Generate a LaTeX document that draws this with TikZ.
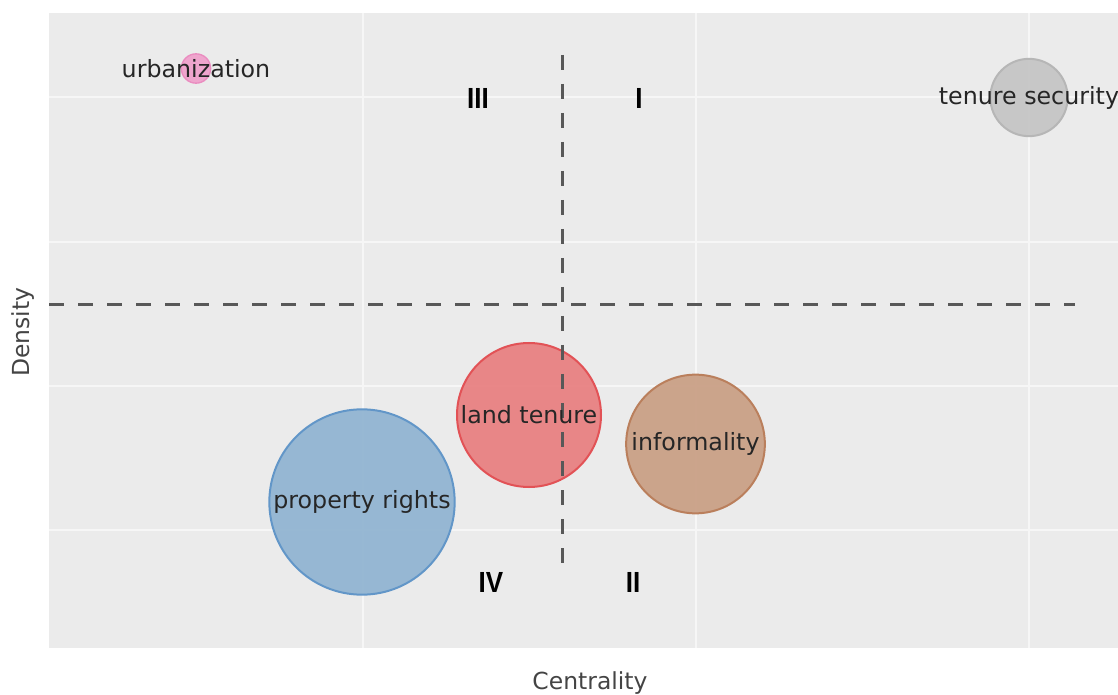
\documentclass[tikz,border=0pt]{standalone}
\usepackage{fontspec}
\setmainfont{DejaVu Sans}
\newfontfamily\quadfont{Liberation Sans}
\definecolor{panelgray}{RGB}{235,235,235}
\definecolor{gridwhite}{RGB}{246,246,246}
\definecolor{labelink}{RGB}{38,38,38}
\definecolor{axisink}{RGB}{68,68,68}
\definecolor{divgray}{RGB}{88,88,88}
\definecolor{propfill}{RGB}{143,179,209}
\definecolor{propline}{RGB}{98,150,200}
\definecolor{landfill}{RGB}{232,126,127}
\definecolor{landline}{RGB}{226,82,86}
\definecolor{infofill}{RGB}{201,158,131}
\definecolor{infoline}{RGB}{186,127,92}
\definecolor{securefill}{RGB}{197,197,197}
\definecolor{secureline}{RGB}{182,182,182}
\definecolor{urbfill}{RGB}{240,160,203}
\definecolor{urbline}{RGB}{234,140,192}
\begin{document}
\begin{tikzpicture}[
    x=0.75pt, y=-0.75pt,
    bubble/.style={circle, draw, line width=1.5pt, fill opacity=0.92, inner sep=0pt},
    bubblelabel/.style={font=\fontsize{17.8}{20}\selectfont, text=labelink, inner sep=0pt},
    quadlabel/.style={font=\quadfont\bfseries\fontsize{19.5}{22}\selectfont, text=black, inner sep=0pt, yscale=1.12},
    axislabel/.style={font=\fontsize{17.6}{20}\selectfont, text=axisink, inner sep=0pt},
    divider/.style={draw=divgray, line width=2.25pt, dash pattern=on 11.25pt off 10.5pt},
    gridline/.style={draw=gridwhite, line width=1.2pt}
]
    \useasboundingbox (0,0) rectangle (1118,695);

    % Panel and grid
    \fill[panelgray] (49,13) rectangle (1118,648);
    \foreach \gx in {363,696,1029}
        \draw[gridline] (\gx,13) -- (\gx,648);
    \foreach \gy in {97,242,386,530}
        \draw[gridline] (49,\gy) -- (1118,\gy);

    % Bubbles
    \node[bubble, fill=propfill, draw=propline, minimum size=139pt] (prop) at (362,502) {};
    \node[bubble, fill=landfill, draw=landline, minimum size=108pt] (land) at (529,415) {};
    \node[bubble, fill=infofill, draw=infoline, minimum size=104pt] (info) at (695.5,444) {};
    \node[bubble, fill=securefill, draw=secureline, minimum size=58pt] (secure) at (1029,97.5) {};
    \node[bubble, fill=urbfill, draw=urbline, line width=1pt, minimum size=22pt] (urb) at (196,68.5) {};

    % Quadrant dividers
    \coordinate (hleft) at (49,305);
    \coordinate (hright) at (1075,305);
    \coordinate (vtop) at (562,55);
    \coordinate (vbottom) at (562,567);
    \draw[divider] (hleft) -- (hright);
    \draw[divider] (vtop) -- (vbottom);

    % Bubble labels
    \node[bubblelabel] (proptext) at (prop) {property rights};
    \node[bubblelabel] (landtext) at (land) {land tenure};
    \node[bubblelabel] (infotext) at (info) {informality};
    \node[bubblelabel] (securetext) at (secure) {tenure security};
    \node[bubblelabel] (urbtext) at (urb) {urbanization};

    % Quadrants
    \node[quadlabel] (qthree) at (478,98) {III};
    \node[quadlabel] (qone) at (639,98) {I};
    \node[quadlabel] (qfour) at (491,582) {IV};
    \node[quadlabel] (qtwo) at (633,582) {II};

    % Axes
    \node[axislabel, anchor=base] (xlabel) at (590,689) {Centrality};
    \node[axislabel, rotate=90] (ylabel) at (23,332) {Density};

\end{tikzpicture}
\end{document}
